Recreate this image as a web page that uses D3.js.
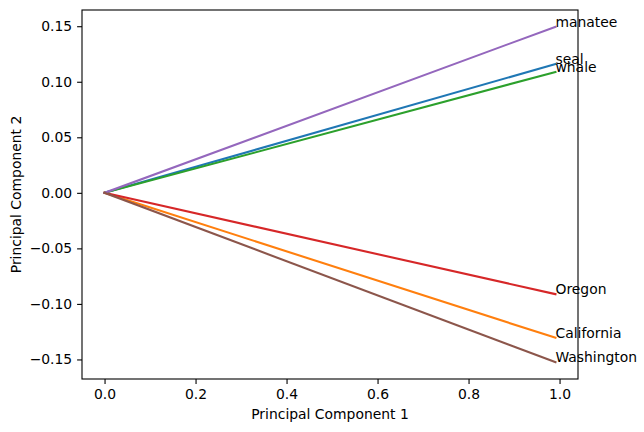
<!DOCTYPE html>
<html>
<head>
<meta charset="utf-8">
<script src="https://cdn.jsdelivr.net/npm/d3@7"></script>
<style>
  body { margin: 0; background: #fff; }
  svg { display: block; }
  text { font-family: "DejaVu Sans", sans-serif; }
</style>
</head>
<body>
<svg id="chart" width="644" height="432"></svg>
<script>
// Data
const labels = ["seal", "California", "whale", "Oregon", "manatee", "Washington"];
const pc1 = [0.991, 0.991, 0.991, 0.991, 0.991, 0.991];
const pc2 = [0.116, -0.1305, 0.1088, -0.0912, 0.1495, -0.1525];
const colors = ["#1f77b4", "#ff7f0e", "#2ca02c", "#d62728", "#9467bd", "#8c564b"];
const xTicks = [0.0, 0.2, 0.4, 0.6, 0.8, 1.0];
const yTicks = [-0.15, -0.10, -0.05, 0.00, 0.05, 0.10, 0.15];

const svg = d3.select("#chart");
const L = 82, R = 578, T = 10, B = 379;

const xmin = 0, xmax = d3.max(pc1);
const ymin = d3.min([0, ...pc2]), ymax = d3.max([0, ...pc2]);
const xm = 0.05 * (xmax - xmin), ym = 0.05 * (ymax - ymin);
const x = d3.scaleLinear().domain([xmin - xm, xmax + xm]).range([L, R]);
const y = d3.scaleLinear().domain([ymin - ym, ymax + ym]).range([B, T]);

// lines
labels.forEach((lab, i) => {
  svg.append("line")
    .attr("x1", x(0)).attr("y1", y(0))
    .attr("x2", x(pc1[i])).attr("y2", y(pc2[i]))
    .attr("stroke", colors[i]).attr("stroke-width", 2.08)
    .attr("stroke-linecap", "square");
});

// axes
const fs = "13.9px";
const xAxis = svg.append("g").attr("transform", `translate(0,${B})`)
  .call(d3.axisBottom(x).tickValues(xTicks).tickFormat(d3.format(".1f")).tickSize(4.9).tickPadding(4.9).tickSizeOuter(0));
const yAxis = svg.append("g").attr("transform", `translate(${L},0)`)
  .call(d3.axisLeft(y).tickValues(yTicks).tickFormat(d3.format(".2f")).tickSize(4.9).tickPadding(4.9).tickSizeOuter(0));
[xAxis, yAxis].forEach(g => {
  g.select(".domain").remove();
  g.selectAll("text").attr("font-size", fs).attr("font-family", "DejaVu Sans").attr("fill", "#000");
  g.selectAll("line").attr("stroke", "#000").attr("stroke-width", 1.1);
});

// frame
svg.append("rect").attr("x", L).attr("y", T).attr("width", R - L).attr("height", B - T)
  .attr("fill", "none").attr("stroke", "#000").attr("stroke-width", 1.1);

// labels on line ends
labels.forEach((lab, i) => {
  svg.append("text")
    .attr("x", x(pc1[i])).attr("y", y(pc2[i]))
    .attr("font-size", fs).attr("fill", "#000")
    .text(lab);
});

// axis titles
svg.append("text").attr("x", (L + R) / 2).attr("y", 419)
  .attr("text-anchor", "middle").attr("font-size", fs).text("Principal Component 1");
svg.append("text").attr("transform", `translate(21,${(T + B) / 2}) rotate(-90)`)
  .attr("text-anchor", "middle").attr("font-size", fs).text("Principal Component 2");
</script>
</body>
</html>
